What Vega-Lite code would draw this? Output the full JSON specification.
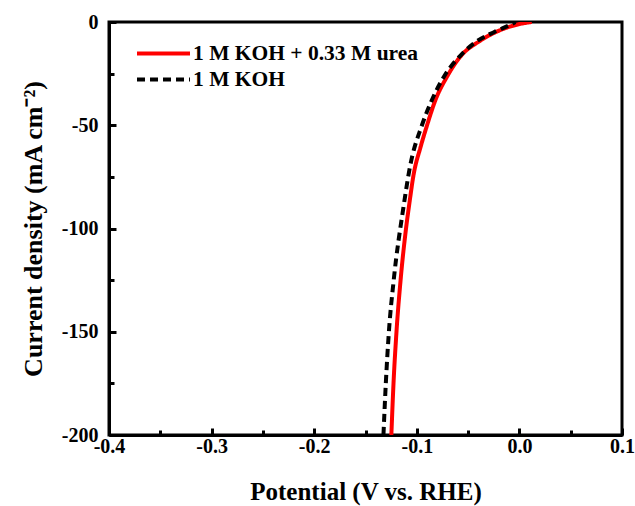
{
  "$schema": "https://vega.github.io/schema/vega-lite/v6.json",
  "width": 513,
  "height": 413,
  "autosize": "none",
  "padding": {"left": 109, "top": 22, "right": 13, "bottom": 71},
  "background": "white",
  "config": {
    "font": "Liberation Serif",
    "view": {"stroke": "black", "strokeWidth": 3},
    "axis": {
      "domainColor": "black", "domainWidth": 3,
      "tickColor": "black", "tickWidth": 3,
      "labelFont": "Liberation Serif", "labelFontSize": 20, "labelFontWeight": "bold", "labelColor": "black",
      "titleFont": "Liberation Serif", "titleFontWeight": "bold", "titleColor": "black",
      "grid": false, "labelOverlap": false, "labelFlush": false
    }
  },
  "data": {
    "values": [
      {"s": "1 M KOH + 0.33 M urea", "V": 0.012, "I": 0},
      {"s": "1 M KOH + 0.33 M urea", "V": 0.0, "I": -1},
      {"s": "1 M KOH + 0.33 M urea", "V": -0.019, "I": -4},
      {"s": "1 M KOH + 0.33 M urea", "V": -0.038, "I": -9},
      {"s": "1 M KOH + 0.33 M urea", "V": -0.058, "I": -17},
      {"s": "1 M KOH + 0.33 M urea", "V": -0.070, "I": -26},
      {"s": "1 M KOH + 0.33 M urea", "V": -0.082, "I": -38},
      {"s": "1 M KOH + 0.33 M urea", "V": -0.090, "I": -50},
      {"s": "1 M KOH + 0.33 M urea", "V": -0.096, "I": -60},
      {"s": "1 M KOH + 0.33 M urea", "V": -0.1035, "I": -75},
      {"s": "1 M KOH + 0.33 M urea", "V": -0.107, "I": -87},
      {"s": "1 M KOH + 0.33 M urea", "V": -0.1105, "I": -100},
      {"s": "1 M KOH + 0.33 M urea", "V": -0.1158, "I": -125},
      {"s": "1 M KOH + 0.33 M urea", "V": -0.1198, "I": -150},
      {"s": "1 M KOH + 0.33 M urea", "V": -0.1227, "I": -175},
      {"s": "1 M KOH + 0.33 M urea", "V": -0.1248, "I": -200},
      {"s": "1 M KOH", "V": -0.004, "I": 0},
      {"s": "1 M KOH", "V": -0.006, "I": -0.6},
      {"s": "1 M KOH", "V": -0.024, "I": -4.7},
      {"s": "1 M KOH", "V": -0.042, "I": -9.5},
      {"s": "1 M KOH", "V": -0.057, "I": -16},
      {"s": "1 M KOH", "V": -0.073, "I": -26},
      {"s": "1 M KOH", "V": -0.0855, "I": -38},
      {"s": "1 M KOH", "V": -0.095, "I": -50},
      {"s": "1 M KOH", "V": -0.1066, "I": -70},
      {"s": "1 M KOH", "V": -0.1131, "I": -90},
      {"s": "1 M KOH", "V": -0.1225, "I": -125},
      {"s": "1 M KOH", "V": -0.1272, "I": -150},
      {"s": "1 M KOH", "V": -0.1302, "I": -175},
      {"s": "1 M KOH", "V": -0.1325, "I": -200}
    ]
  },
  "encoding": {
    "x": {
      "field": "V", "type": "quantitative",
      "scale": {"domain": [-0.4, 0.1], "nice": false, "zero": false},
      "axis": {
        "title": "Potential (V vs. RHE)",
        "titleFontSize": 25,
        "values": [-0.4, -0.35, -0.3, -0.25, -0.2, -0.15, -0.1, -0.05, 0, 0.05, 0.1],
        "format": ".1f",
        "labelExpr": "abs(round(datum.value*20)) % 2 == 0 ? replace(datum.label, '\u2212', '-') : ''",
        "tickSize": {"condition": {"test": "abs(round(datum.value*20)) % 2 == 0", "value": -7}, "value": -5},
        "labelPadding": 8,
        "titlePadding": 21
      }
    },
    "y": {
      "field": "I", "type": "quantitative",
      "scale": {"domain": [-200, 0], "nice": false, "zero": false},
      "axis": {
        "title": "Current density (mA cm\u207B\u00B2)",
        "titleFontSize": 26,
        "values": [-200, -175, -150, -125, -100, -75, -50, -25, 0],
        "format": "d",
        "labelExpr": "round(datum.value) % 50 == 0 ? replace(datum.label, '\u2212', '-') : ''",
        "tickSize": {"condition": {"test": "round(datum.value) % 50 == 0", "value": -7}, "value": -5},
        "labelPadding": 18,
        "titlePadding": 15
      }
    },
    "color": {
      "field": "s", "type": "nominal",
      "scale": {"domain": ["1 M KOH + 0.33 M urea", "1 M KOH"], "range": ["#ff0000", "#000000"]},
      "legend": {
        "title": null, "orient": "none", "legendX": 39, "legendY": 16,
        "symbolType": "M-2,0H2", "symbolSize": 702, "symbolStrokeWidth": 4,
        "labelFont": "Liberation Serif", "labelFontSize": 21.5, "labelFontWeight": "bold", "labelColor": "black",
        "labelOffset": 14, "rowPadding": 0, "padding": 0, "labelLimit": 400
      }
    },
    "strokeDash": {
      "field": "s", "type": "nominal",
      "scale": {"domain": ["1 M KOH + 0.33 M urea", "1 M KOH"], "range": [[1, 0], [8, 5]]},
      "legend": {
        "title": null, "orient": "none", "legendX": 39, "legendY": 16,
        "symbolType": "M-2,0H2", "symbolSize": 702, "symbolStrokeWidth": 4,
        "labelFont": "Liberation Serif", "labelFontSize": 21.5, "labelFontWeight": "bold", "labelColor": "black",
        "labelOffset": 14, "rowPadding": 0, "padding": 0, "labelLimit": 400
      }
    },
    "order": {"field": "V", "type": "quantitative"}
  },
  "layer": [
    {
      "transform": [{"filter": "datum.s == '1 M KOH + 0.33 M urea'"}],
      "mark": {"type": "line", "strokeWidth": 4, "interpolate": "monotone", "clip": true}
    },
    {
      "transform": [{"filter": "datum.s == '1 M KOH'"}],
      "mark": {"type": "line", "strokeWidth": 4, "interpolate": "monotone", "clip": true}
    }
  ]
}
